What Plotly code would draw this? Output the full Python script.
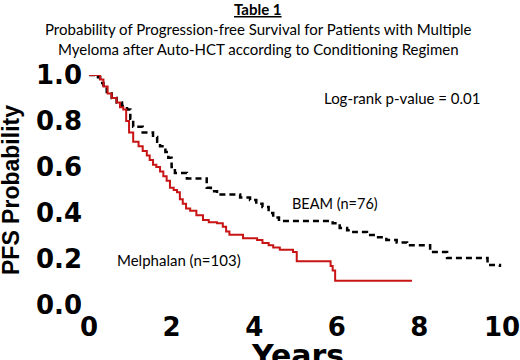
import plotly.graph_objects as go

# Kaplan-Meier step data
mel_years = [0, 0.27, 0.35, 0.45, 0.55, 0.67, 0.75, 0.83, 0.9, 0.97, 1.07, 1.2, 1.3, 1.4, 1.47,
             1.55, 1.63, 1.72, 1.8, 1.88, 1.96, 2.05, 2.13, 2.2, 2.27, 2.35, 2.45, 2.6, 2.76,
             2.9, 3.1, 3.24, 3.32, 3.4, 3.73, 4.07, 4.2, 4.35, 4.46, 4.62, 4.94, 5.03, 5.85,
             5.9, 5.96, 7.82]
mel_pfs = [1.0, 0.98, 0.95, 0.92, 0.90, 0.88, 0.86, 0.85, 0.80, 0.75, 0.71, 0.69, 0.67, 0.65,
           0.63, 0.61, 0.60, 0.58, 0.56, 0.54, 0.51, 0.50, 0.49, 0.46, 0.44, 0.42, 0.41, 0.39,
           0.37, 0.36, 0.355, 0.34, 0.32, 0.305, 0.29, 0.283, 0.27, 0.26, 0.25, 0.24, 0.23,
           0.19, 0.17, 0.15, 0.105, 0.105]

beam_years = [0, 0.15, 0.27, 0.35, 0.43, 0.55, 0.67, 0.8, 0.92, 1.0, 1.07, 1.3, 1.55, 1.65,
              1.72, 1.85, 1.92, 2.0, 2.08, 2.37, 2.85, 2.95, 3.1, 3.66, 3.9, 4.05, 4.2, 4.35,
              4.46, 4.6, 5.9, 6.07, 6.25, 6.4, 6.73, 6.95, 7.2, 7.45, 7.7, 8.26, 8.67, 9.65, 9.95]
beam_pfs = [1.0, 0.99, 0.965, 0.945, 0.92, 0.90, 0.88, 0.865, 0.85, 0.81, 0.775, 0.75, 0.73,
            0.71, 0.69, 0.665, 0.64, 0.60, 0.574, 0.55, 0.51, 0.495, 0.48, 0.467, 0.457, 0.44,
            0.426, 0.40, 0.38, 0.365, 0.355, 0.335, 0.325, 0.317, 0.304, 0.295, 0.283, 0.272,
            0.26, 0.23, 0.204, 0.174, 0.165]

x_ticks = [0, 2, 4, 6, 8, 10]
y_ticks = [0.0, 0.2, 0.4, 0.6, 0.8, 1.0]
y_tick_labels = ["0.0", "0.2", "0.4", "0.6", "0.8", "1.0"]

fig = go.Figure()
fig.add_trace(go.Scatter(x=beam_years, y=beam_pfs, mode="lines", line_shape="hv",
                         line=dict(color="black", width=2.5, dash="6px,4px"), showlegend=False))
fig.add_trace(go.Scatter(x=mel_years, y=mel_pfs, mode="lines", line_shape="hv",
                         line=dict(color="#c81414", width=2), showlegend=False))

tickfont = dict(family="DejaVu Sans", size=26, color="black", weight="bold")
fig.update_xaxes(range=[0, 10], tickvals=x_ticks, ticktext=[str(v) for v in x_ticks],
                 showgrid=False, zeroline=False, showline=False, ticks="",
                 tickfont=tickfont, ticklabelstandoff=4, automargin=False,
                 ticklabeloverflow="allow")
fig.update_yaxes(range=[0, 1], tickvals=y_ticks, ticktext=y_tick_labels,
                 showgrid=False, zeroline=False, showline=False, ticks="",
                 tickfont=tickfont, ticklabelstandoff=6, automargin=False,
                 ticklabeloverflow="allow")

cal = "Lato"
anns = [
    dict(text="<u><b>Table 1</b></u>", y=(305 - 9) / 230, size=15),
    dict(text="Probability of Progression-free Survival for Patients with Multiple",
         y=(305 - 29) / 230, size=15),
    dict(text="Myeloma after Auto-HCT according to Conditioning Regimen",
         y=(305 - 49) / 230, size=15),
]
for a in anns:
    fig.add_annotation(text=a["text"], xref="paper", yref="paper",
                       x=(258 - 89) / 413, y=a["y"], xanchor="center", yanchor="middle",
                       showarrow=False, font=dict(family=cal, size=a["size"], color="black"))

fig.add_annotation(text="<b>PFS Probability</b>", xref="paper", yref="paper",
                   x=(11 - 89) / 413, y=0.5, textangle=-90, xanchor="center", yanchor="middle",
                   showarrow=False, font=dict(family="Liberation Sans", size=23, color="black"))
fig.add_annotation(text="<b>Years</b>", xref="paper", yref="paper",
                   x=(297 - 89) / 413, y=(305 - 355) / 230, xanchor="center", yanchor="middle",
                   showarrow=False, font=dict(family="DejaVu Sans", size=30, color="black"))

fig.add_annotation(text="Log-rank p-value = 0.01", x=7.59, y=0.9, showarrow=False,
                   xanchor="center", yanchor="middle", font=dict(family=cal, size=15, color="black"))
fig.add_annotation(text="BEAM (n=76)", x=5.96, y=0.443, showarrow=False,
                   xanchor="center", yanchor="middle", font=dict(family=cal, size=14.5, color="black"))
fig.add_annotation(text="Melphalan (n=103)", x=2.17, y=0.196, showarrow=False,
                   xanchor="center", yanchor="middle", font=dict(family=cal, size=15, color="black"))

fig.update_layout(width=520, height=360, margin=dict(l=89, r=18, t=75, b=55),
                  paper_bgcolor="white", plot_bgcolor="white")
# remove the browser's default 8px body margin so the figure fills the window
fig.write_html("out.html", config={"displayModeBar": False},
               post_script="document.body.style.margin='0px';")
